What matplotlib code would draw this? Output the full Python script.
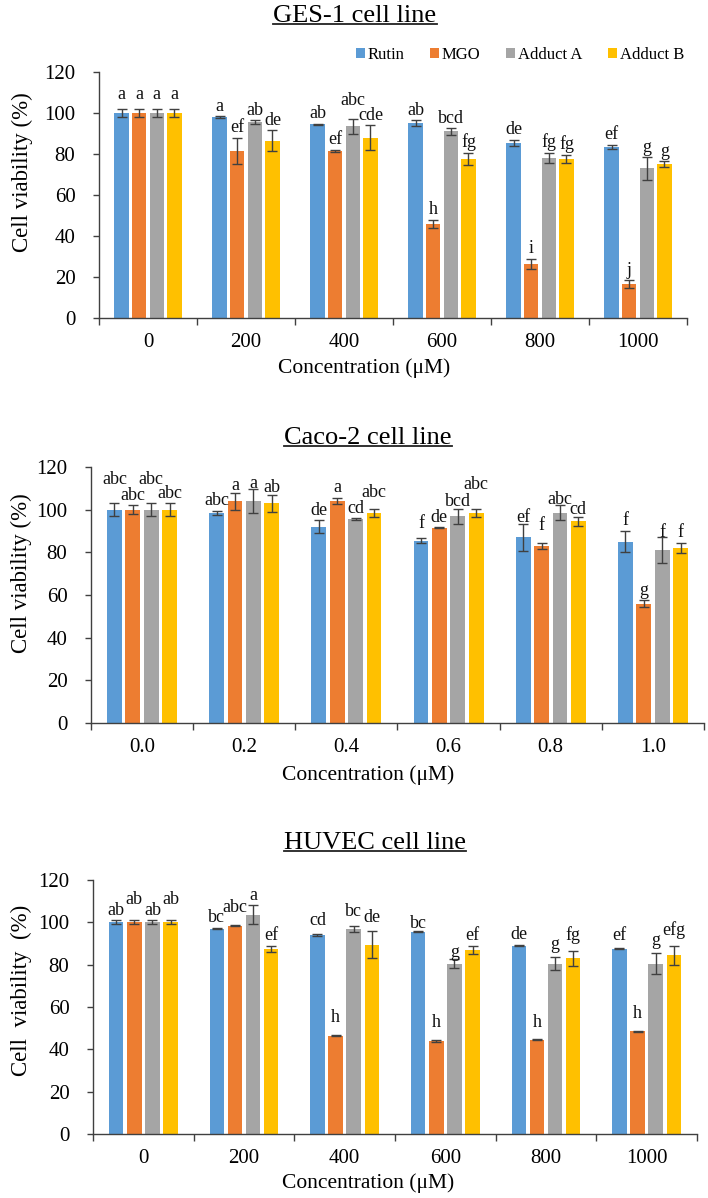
import matplotlib.pyplot as plt
import numpy as np
from matplotlib.patches import Patch
from matplotlib.lines import Line2D

plt.rcParams['font.family'] = ['Liberation Serif', 'DejaVu Serif']

SERIES = ['Rutin', 'MGO', 'Adduct A', 'Adduct B']
COLORS = ['#5B9BD5', '#ED7D31', '#A5A5A5', '#FFC000']
AXIS_COLOR = '#404040'

# GES-1 cell line
ges_conc = ['0', '200', '400', '600', '800', '1000']
ges_rutin = [100, 98, 94.5, 95, 85.5, 83.5]
ges_mgo = [100, 81.5, 81.5, 46, 26.5, 16.5]
ges_a = [100, 95.5, 93.5, 91, 78, 73]
ges_b = [100, 86.5, 88, 77.5, 77.5, 75]
ges_rutin_err = [2, 0.5, 0.3, 1.5, 1.5, 1]
ges_mgo_err = [2, 6.5, 0.5, 2, 2.5, 2]
ges_a_err = [2, 1, 3.5, 1.5, 2.5, 5.5]
ges_b_err = [2, 5, 6, 3, 2, 1.5]
ges_rutin_lbl = ['a', 'a', 'ab', 'ab', 'de', 'ef']
ges_mgo_lbl = ['a', 'ef', 'ef', 'h', 'i', 'j']
ges_a_lbl = ['a', 'ab', 'abc', 'bcd', 'fg', 'g']
ges_b_lbl = ['a', 'de', 'cde', 'fg', 'fg', 'g']

# Caco-2 cell line
caco_conc = ['0.0', '0.2', '0.4', '0.6', '0.8', '1.0']
caco_rutin = [100, 98.5, 92, 85.5, 87, 85]
caco_mgo = [100, 104, 104, 91.5, 83, 56]
caco_a = [100, 104, 95.5, 97, 98.5, 81]
caco_b = [100, 103, 98.5, 98.5, 94.5, 82]
caco_rutin_err = [3, 1, 3, 1.2, 6.5, 5]
caco_mgo_err = [2, 4, 1.5, 0.3, 1.5, 1.5]
caco_a_err = [3, 5.5, 0.5, 3.5, 3.5, 6]
caco_b_err = [3, 4, 2, 2, 2, 2.5]
caco_rutin_lbl = ['abc', 'abc', 'de', 'f', 'ef', 'f']
caco_mgo_lbl = ['abc', 'a', 'a', 'de', 'f', 'g']
caco_a_lbl = ['abc', 'a', 'cd', 'bcd', 'abc', 'f']
caco_b_lbl = ['abc', 'ab', 'abc', 'abc', 'cd', 'f']

# HUVEC cell line
huv_conc = ['0', '200', '400', '600', '800', '1000']
huv_rutin = [100, 97, 94, 95.5, 89, 87.5]
huv_mgo = [100, 98.5, 46.5, 44, 44.5, 48.5]
huv_a = [100, 103.5, 97, 80.5, 80.5, 80.5]
huv_b = [100, 87.5, 89.5, 87, 83, 84.5]
huv_rutin_err = [1, 0.3, 0.3, 0.3, 0.3, 0.3]
huv_mgo_err = [1, 0.3, 0.3, 0.5, 0.3, 0.3]
huv_a_err = [1, 4.5, 1.5, 2, 3, 5]
huv_b_err = [1, 1.5, 6.5, 2, 3.5, 4.5]
huv_rutin_lbl = ['ab', 'bc', 'cd', 'bc', 'de', 'ef']
huv_mgo_lbl = ['ab', 'abc', 'h', 'h', 'h', 'h']
huv_a_lbl = ['ab', 'a', 'bc', 'g', 'g', 'g']
huv_b_lbl = ['ab', 'ef', 'de', 'ef', 'fg', 'efg']

# extra lift (points) for letters that were staggered to avoid overlap
ges_lift = [[3, 0, 0, 0, 0, 0], [3, 0, 0, 0, 0, 0], [3, 0, 6, 0, 0, 0], [3, 0, 0, 0, 0, 0]]
caco_lift = [[10, 0, 0, 3, -3, 0], [0, -2, 0, 0, 5, 0], [10, -3, 0, -2, -3, -4], [0, -2, 4, 10, -2, 0]]
huv_lift = [[0, 0, 3, -2, 0, 2], [8, 5, 5, 5, 5, 5], [0, 0, 3, -2, 2, 2], [8, 0, 2, 0, 4, 4]]

W, H = 708, 1198
fig = plt.figure(figsize=(W / 100, H / 100), dpi=100)


def px_axes(left, right, top, bottom):
    return fig.add_axes([left / W, 1 - bottom / H, (right - left) / W, (bottom - top) / H])


def draw_panel(ax, conc, vals, errs, lbls, lifts):
    x = np.arange(len(conc))
    slot = 0.18
    for i in range(4):
        xs = x + (i - 1.5) * slot
        ax.bar(xs, vals[i], width=0.145, color=COLORS[i], zorder=2)
        ax.errorbar(xs, vals[i], yerr=errs[i], fmt='none', ecolor=AXIS_COLOR,
                    elinewidth=1, capsize=3.5, capthick=1, zorder=3)
        for j in range(len(conc)):
            ax.annotate(lbls[i][j], (xs[j], vals[i][j] + errs[i][j]),
                        xytext=(0, 4 + lifts[i][j]), textcoords='offset points',
                        ha='center', va='baseline', fontsize=13, color='#111111')
    ax.set_xlim(-0.5, len(conc) - 0.5)
    ax.set_ylim(0, 120)
    ax.set_yticks(range(0, 121, 20))
    ax.set_xticks(x)
    ax.set_xticklabels(conc)
    ax.set_xticks(np.arange(-0.5, len(conc), 1), minor=True)
    ax.tick_params(axis='x', which='major', length=0, pad=11, labelsize=15)
    ax.tick_params(axis='x', which='minor', length=5, width=1, color=AXIS_COLOR, direction='out')
    ax.tick_params(axis='y', length=4, width=1, color=AXIS_COLOR, pad=13, labelsize=15)
    for s in ['top', 'right']:
        ax.spines[s].set_visible(False)
    for s in ['left', 'bottom']:
        ax.spines[s].set_color(AXIS_COLOR)
        ax.spines[s].set_linewidth(1)


panels = [
    ('GES-1 cell line', ges_conc,
     [ges_rutin, ges_mgo, ges_a, ges_b], [ges_rutin_err, ges_mgo_err, ges_a_err, ges_b_err],
     [ges_rutin_lbl, ges_mgo_lbl, ges_a_lbl, ges_b_lbl], ges_lift,
     (99, 687, 72, 318), (355, 16), (22, 172, 'Cell viability (%)'), (364, 368)),
    ('Caco-2 cell line', caco_conc,
     [caco_rutin, caco_mgo, caco_a, caco_b], [caco_rutin_err, caco_mgo_err, caco_a_err, caco_b_err],
     [caco_rutin_lbl, caco_mgo_lbl, caco_a_lbl, caco_b_lbl], caco_lift,
     (91, 704, 467, 723), (368, 438), (21, 573, 'Cell viability (%)'), (368, 775)),
    ('HUVEC cell line', huv_conc,
     [huv_rutin, huv_mgo, huv_a, huv_b], [huv_rutin_err, huv_mgo_err, huv_a_err, huv_b_err],
     [huv_rutin_lbl, huv_mgo_lbl, huv_a_lbl, huv_b_lbl], huv_lift,
     (93, 697, 880, 1134), (375, 843), (21, 990, 'Cell  viability  (%)'), (368, 1183)),
]

titles = []
for title, conc, vals, errs, lbls, lifts, box, tpos, ylab, xpos in panels:
    ax = px_axes(*box)
    draw_panel(ax, conc, vals, errs, lbls, lifts)
    t = fig.text(tpos[0] / W, 1 - tpos[1] / H, title, ha='center', va='center', fontsize=19)
    titles.append(t)
    fig.text(ylab[0] / W, 1 - ylab[1] / H, ylab[2], rotation=90, ha='center', va='center', fontsize=16.5)
    fig.text(xpos[0] / W, 1 - xpos[1] / H, 'Concentration (μM)', ha='center', va='center', fontsize=15.5)

handles = [Patch(facecolor=c) for c in COLORS]
fig.legend(handles, SERIES, loc='center right', bbox_to_anchor=(684 / W, 1 - 55 / H),
           ncol=4, frameon=False, fontsize=12, handlelength=0.55, handleheight=0.55,
           handletextpad=0.15, columnspacing=1.55, borderpad=0, borderaxespad=0)

# underline the panel titles
fig.canvas.draw()
r = fig.canvas.get_renderer()
inv = fig.transFigure.inverted()
for t in titles:
    bb = t.get_window_extent(r)
    (x0, y0), (x1, _) = inv.transform([(bb.x0, bb.y0 + 3), (bb.x1, bb.y0 + 3)])
    fig.add_artist(Line2D([x0, x1], [y0, y0], transform=fig.transFigure, color='#222222', lw=1.3))

fig.savefig('out.png', dpi=100)
